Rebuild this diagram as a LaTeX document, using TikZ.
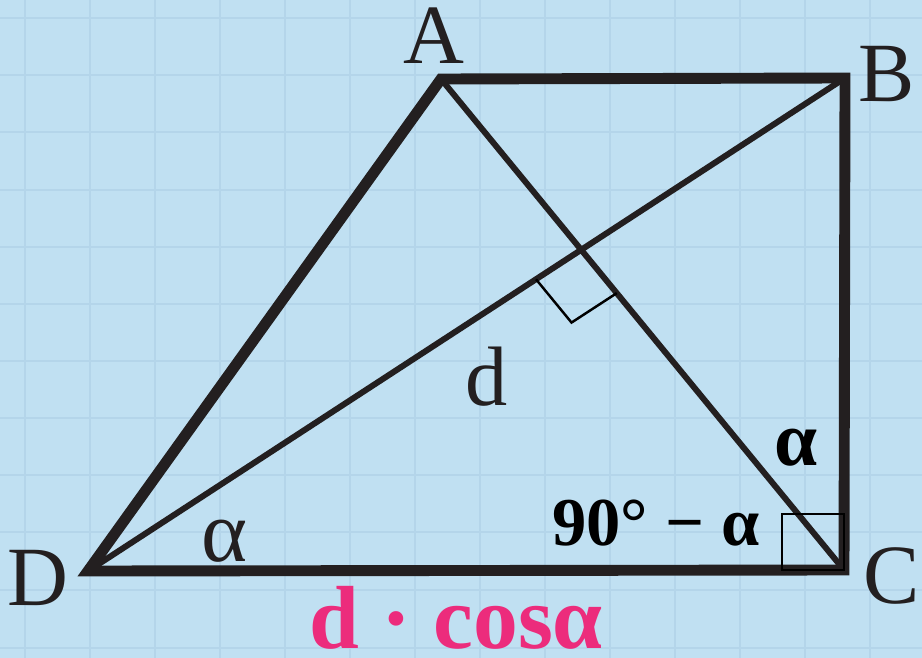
\documentclass[tikz,border=0pt]{standalone}
\usepackage{fontspec}
\setmainfont{Liberation Serif}
\usetikzlibrary{calc}
\definecolor{bg}{RGB}{192,224,242}
\definecolor{gridc}{RGB}{180,213,234}
\definecolor{ink}{RGB}{35,31,32}
\definecolor{pink}{RGB}{236,44,124}
\tikzset{
  thickedge/.style={draw=ink,line width=6.2pt,line join=miter},
  diag/.style={draw=ink,line width=3.4pt},
  marker/.style={draw=black,line width=1.4pt},
  vlabel/.style={text=ink,inner sep=0pt,anchor=base,font=\fontsize{48}{48}\selectfont},
  anglabel/.style={text=ink,inner sep=0pt,anchor=base,font=\fontsize{50}{50}\selectfont},
  boldlabel/.style={text=black,inner sep=0pt,anchor=base,font=\fontsize{39}{39}\selectfont\bfseries},
  bigbold/.style={boldlabel,font=\fontsize{44}{44}\selectfont\bfseries},
  pinklabel/.style={text=pink,inner sep=0pt,anchor=base,font=\fontsize{51}{51}\selectfont\bfseries}
}
\begin{document}
\begin{tikzpicture}[x=0.02cm,y=-0.02cm]
\fill[bg] (0,0) rectangle (922,658);
\useasboundingbox (0,0) rectangle (922,658);
% grid
\foreach \gx in {25,90,155,220,285,350,415,480,545,610,675,740,805,870}
  \draw[gridc,line width=0.9pt] (\gx,0) -- (\gx,658);
\foreach \gy in {18,75,132,190,247,304,361,418,475,532,590,648}
  \draw[gridc,line width=0.9pt] (0,\gy) -- (922,\gy);
% vertices
\coordinate (A) at (441,79);
\coordinate (B) at (845,78);
\coordinate (C) at (844,570);
\coordinate (D) at (88,571);
% diagonals
\draw[diag] (A) -- (C);
\draw[diag] (B) -- (D);
\coordinate (O) at (intersection of A--C and B--D);
% outline
\draw[thickedge] (A) -- (B) -- (C) -- (D) -- cycle;
% right angle marker at O
\coordinate (P1) at ($(O)!1.08cm!(D)$);
\coordinate (P3) at ($(O)!1.12cm!(C)$);
\coordinate (P2) at ($(P1)+(P3)-(O)$);
\draw[marker] (P1) -- (P2) -- (P3);
% right angle square at C
\coordinate (S1) at (782,514);
\draw[marker] (S1) rectangle (C);
% labels
\node[vlabel] (lA) at (434,64) {A};
\node[vlabel] (lB) at (887,102) {B};
\node[vlabel] (lC) at (892,603) {C};
\node[vlabel] (lD) at (38,605) {D};
\node[vlabel] (ld) at (487,405) {d};
\node[anglabel] (la1) at (225,561) {α};
\node[bigbold] (la2) at (796,465) {α};
\node[boldlabel] (l90) at (656,545) {90° − α};
\node[pinklabel] (lcos) at (456,648) {d · cosα};
\end{tikzpicture}
\end{document}
